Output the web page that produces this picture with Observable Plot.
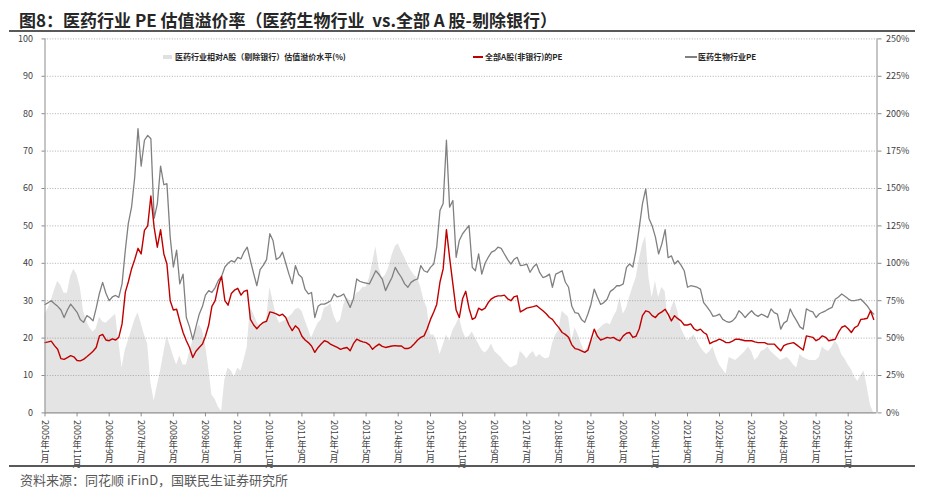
<!DOCTYPE html>
<html><head><meta charset="utf-8">
<script src="https://cdn.jsdelivr.net/npm/d3@7"></script>
<script src="https://cdn.jsdelivr.net/npm/@observablehq/plot@0.6"></script>
<style>
body{margin:0;background:#fff;}
#page{position:relative;width:930px;height:492px;overflow:hidden;font-family:"Noto Sans CJK SC","Noto Sans",sans-serif;}
.abs{position:absolute;white-space:pre;}
.leg{font-size:8px;font-weight:bold;color:#262626;line-height:10px;top:52px;}
</style></head><body><div id="page">
<div class="abs" style="left:19px;top:11px;font-size:17px;line-height:17px;font-weight:bold;color:#262626;">图8：医药行业 PE 估值溢价率（医药生物行业  vs.全部 A 股-剔除银行）</div>
<div class="abs" style="left:9px;top:30px;width:906px;height:2px;background:#595959;"></div>
<div id="chart" class="abs" style="left:0;top:28px;"></div>
<div class="abs" style="left:163px;top:55px;width:9px;height:4px;background:#e0e0e0;"></div>
<div class="abs leg" style="left:175px;">医药行业相对A股（剔除银行）估值溢价水平(%)</div>
<div class="abs" style="left:473px;top:56px;width:10px;height:2px;background:#c00000;"></div>
<div class="abs leg" style="left:485px;">全部A股(非银行)的PE</div>
<div class="abs" style="left:685px;top:56px;width:12px;height:2px;background:#808080;"></div>
<div class="abs leg" style="left:698px;">医药生物行业PE</div>
<div class="abs" style="left:9px;top:465px;width:906px;height:2px;background:#595959;"></div>
<div class="abs" style="left:20px;top:473px;font-size:13px;line-height:13px;color:#595959;">资料来源：同花顺 iFinD，国联民生证券研究所</div>
</div>
<script>
// monthly series starting 2005年1月
const peAll = [
 18.8,19.0,19.2,18.0,17.0,14.5,14.3,14.8,15.3,15.0,14.0,13.9, // 2005
 14.3,15.0,15.7,16.5,17.5,20.6,21.0,19.5,19.3,19.8,19.5,20.2, // 2006
 23.8,32.3,35.0,38.5,41.0,44.0,42.5,48.8,50.0,58.0,49.6,44.3, // 2007
 49.0,42.5,39.8,30.0,27.5,27.7,24.5,21.5,19.3,17.5,14.8,16.5, // 2008
 17.5,18.4,20.5,23.5,28.5,30.0,34.0,36.5,30.0,28.8,31.9,32.8, // 2009
 33.3,31.5,32.5,32.8,25.0,23.5,22.5,23.5,24.2,24.5,27.0,26.8, // 2010
 26.5,26.0,26.4,25.5,23.5,22.0,23.3,22.5,20.5,19.5,18.8,17.9, // 2011
 16.2,17.5,18.4,19.3,19.0,18.3,17.9,17.5,17.0,17.3,17.5,16.6, // 2012
 18.5,19.7,19.3,19.0,18.8,18.2,17.0,17.8,18.4,17.8,17.5,17.7, // 2013
 17.9,18.0,17.9,17.9,17.2,17.2,17.6,18.5,19.5,20.2,20.6,22.5, // 2014
 25.0,27.0,29.0,35.0,38.5,49.0,41.5,34.5,27.5,25.5,30.5,32.5, // 2015
 28.0,25.0,25.5,28.0,27.5,28.0,29.5,30.5,31.0,31.3,31.3,31.5, // 2016
 30.5,30.0,31.0,31.3,27.0,27.5,28.0,28.2,28.4,28.7,28.0,27.3, // 2017
 26.5,25.5,25.0,23.8,22.8,21.5,21.0,20.2,18.2,17.2,17.0,16.6, // 2018
 16.2,16.8,19.5,22.4,20.5,19.5,19.8,20.2,20.0,20.2,19.6,19.3, // 2019
 20.6,21.3,21.5,20.2,20.5,22.5,26.0,27.3,27.0,26.0,25.5,26.5, // 2020
 27.0,27.7,26.4,24.6,26.0,25.2,24.6,23.5,23.5,23.8,22.5,22.0, // 2021
 22.4,21.5,21.0,18.5,19.0,19.3,19.7,19.3,18.8,18.8,19.2,19.7, // 2022
 19.7,19.5,19.3,19.3,19.3,19.0,18.8,18.8,18.8,18.4,18.4,18.4, // 2023
 17.5,16.6,18.0,18.4,18.6,18.8,18.2,17.5,16.8,20.6,20.4,20.2, // 2024
 19.3,19.8,20.6,20.2,19.3,19.5,19.7,21.5,22.9,23.3,22.5,21.5, // 2025
 22.8,23.3,25.0,25.1,25.3,27.3,25.0                           // 2026
];
const peMed = [
 29.0,29.5,30.0,29.2,28.5,27.5,25.5,27.5,29.1,28.0,26.9,25.0, // 2005
 24.2,26.0,25.5,24.6,28.0,32.0,34.9,32.0,30.0,31.0,31.4,30.9, // 2006
 34.5,43.5,50.6,55.0,63.0,76.0,66.0,72.9,74.2,73.3,52.0,55.9, // 2007
 66.0,61.0,61.3,47.0,39.0,43.5,34.5,37.1,25.5,23.0,19.6,23.0, // 2008
 26.4,28.5,31.5,32.7,32.2,33.5,35.4,36.5,39.0,40.0,40.7,40.3, // 2009
 41.6,41.2,43.0,44.3,40.7,37.2,34.0,38.3,39.5,41.0,47.9,46.1, // 2010
 41.0,41.6,43.0,40.0,37.1,34.5,39.4,37.0,36.2,33.0,31.8,32.2, // 2011
 25.5,28.5,29.1,29.1,29.5,30.0,31.8,31.0,31.3,31.8,30.0,28.2, // 2012
 30.5,35.8,35.2,34.9,34.7,34.5,36.2,38.0,37.0,35.8,32.7,34.5, // 2013
 36.2,38.9,37.5,36.2,34.5,33.6,34.9,35.5,35.8,39.4,38.0,37.6, // 2014
 38.9,39.8,44.3,54.1,56.0,72.9,55.0,56.8,41.6,46.1,47.9,49.0, // 2015
 50.1,38.9,38.0,42.5,37.1,40.0,41.6,43.0,43.4,44.3,44.0,42.5, // 2016
 41.0,39.8,41.0,41.6,39.4,39.5,39.8,37.6,39.0,39.8,37.5,36.2, // 2017
 36.5,37.1,33.6,37.1,37.5,38.0,35.0,33.6,28.5,26.8,26.6,25.0, // 2018
 24.2,26.5,29.0,33.1,31.0,29.0,29.5,30.4,32.5,33.1,34.0,34.0, // 2019
 34.5,38.9,39.8,39.0,43.4,49.6,55.9,59.9,52.0,50.0,47.0,42.5, // 2020
 45.2,49.0,41.5,42.0,39.8,40.7,39.5,38.0,33.6,34.0,33.8,33.6, // 2021
 33.1,29.5,28.5,27.3,25.8,26.0,26.4,25.0,24.5,24.2,24.6,25.5, // 2022
 27.3,26.5,25.5,26.5,27.3,26.3,25.8,26.4,26.0,25.5,27.8,26.8, // 2023
 26.4,22.4,24.0,24.6,27.8,26.0,24.6,23.0,22.4,27.8,27.3,27.0, // 2024
 25.5,26.5,26.9,27.3,27.8,28.2,30.4,31.0,31.8,31.2,30.5,30.0, // 2025
 30.0,30.2,30.4,29.5,28.6,27.3,26.4                           // 2026
];
// 医药行业相对A股（剔除银行）估值溢价水平 (%), right axis
const premium = [
 66,70,75,82,88,85,80,80,91,96,92,84,   // 2005
 68,61,57,54,56,64,61,60,62,64,66,48,   // 2006
 30,42,48,55,62,67,60,52,46,20,8,18,    // 2007
 28,40,51,45,38,32,38,32,32,40,48,55,   // 2008
 59,55,46,30,12,9,4,1,22,30,28,24,      // 2009
 30,28,35,44,71,66,61,57,59,62,84,75,   // 2010
 65,60,61,62,64,66,69,70,68,62,56,50,   // 2011
 55,60,62,70,71,73,65,60,62,72,77,75,   // 2012
 75,80,81,84,84,90,100,111,97,90,92,97, // 2013
 105,111,113,108,104,99,95,92,90,84,75,70, // 2014
 52,52,48,39,45,52,48,55,59,64,55,50,   // 2015
 51,54,50,46,42,40,42,46,41,39,37,34,   // 2016
 32,30,31,32,41,39,36,39,41,37,39,37,   // 2017
 36,37,46,52,55,68,66,64,48,57,52,46,   // 2018
 41,44,48,50,55,57,59,60,59,64,68,77,   // 2019
 66,70,77,84,90,102,112,118,90,77,88,77, // 2020
 84,81,62,70,75,68,57,52,48,50,52,48,   // 2021
 44,41,39,41,44,37,32,29,26,37,36,35,   // 2022
 37,39,41,44,41,35,37,41,42,44,41,39,   // 2023
 37,35,36,37,35,32,30,39,37,36,35,35,   // 2024
 35,37,44,42,41,44,48,45,39,36,32,29,   // 2025
 24,21,25,28,17,5,0                     // 2026
];
const xTickLabels = ["2005年1月","2005年11月","2006年9月","2007年7月","2008年5月","2009年3月","2010年1月","2010年11月","2011年9月","2012年7月","2013年5月","2014年3月","2015年1月","2015年11月","2016年9月","2017年7月","2018年5月","2019年3月","2020年1月","2020年11月","2021年9月","2022年7月","2023年5月","2024年3月","2025年1月","2025年11月"];
const leftTicks = [0,10,20,30,40,50,60,70,80,90,100];
const leftTickLabels = ["0","10","20","30","40","50","60","70","80","90","100"];
const rightTickLabels = ["0%","25%","50%","75%","100%","125%","150%","175%","200%","225%","250%"];

const data = peAll.map((v, i) => ({date: new Date(Date.UTC(2005, i, 1)), all: v, med: peMed[i], prem: premium[i]}));
const xTicks = xTickLabels.map(s => { const [y, m] = s.match(/\d+/g).map(Number); return new Date(Date.UTC(y, m - 1, 1)); });
const x0 = new Date(Date.UTC(2005, 0, 1)), x1 = new Date(Date.UTC(2026, 7, 1));
const axisColor = "#8c8c8c";

const chart = Plot.plot({
  width: 930, height: 438,
  marginTop: 10.4, marginBottom: 53.6, marginLeft: 44.5, marginRight: 53.5,
  style: {fontFamily: "'Noto Sans CJK SC','Noto Sans',sans-serif", fontSize: "9px", color: "#404040", background: "transparent", overflow: "visible"},
  x: {type: "utc", domain: [x0, x1]},
  y: {domain: [0, 100]},
  marks: [
    Plot.areaY(data, {x: "date", y: d => d.prem / 2.5, fill: "#e4e4e4"}),
    Plot.gridY(leftTicks.slice(1), {stroke: "#9a9a9a", strokeOpacity: 1, strokeDasharray: "1,1.6", strokeWidth: 0.8}),
    Plot.lineY(data, {x: "date", y: "med", stroke: "#808080", strokeWidth: 1.3}),
    Plot.lineY(data, {x: "date", y: "all", stroke: "#c00000", strokeWidth: 1.4}),
    Plot.ruleX([x0, x1], {stroke: axisColor, strokeWidth: 1}),
    Plot.ruleY([0], {stroke: axisColor, strokeWidth: 1.2}),
    Plot.axisY(leftTicks, {anchor: "left", tickSize: 3, tickPadding: 9, stroke: axisColor, fill: "#404040", tickFormat: d => leftTickLabels[leftTicks.indexOf(d)]}),
    Plot.axisY(leftTicks, {anchor: "right", tickSize: 4, tickPadding: 5, stroke: axisColor, fill: "#404040", tickFormat: d => rightTickLabels[leftTicks.indexOf(d)]}),
    Plot.axisX(xTicks, {tickSize: 4, stroke: axisColor, tickFormat: () => ""}),
    Plot.text(xTicks, {x: d => d, y: 0, dy: 7, text: (d, i) => xTickLabels[i], textAnchor: "start", lineAnchor: "bottom", fontSize: 9, fill: "#404040"})
  ]
});
d3.select(chart).selectAll("text")
  .filter(function() { return /年.*月/.test(this.textContent); })
  .attr("writing-mode", "vertical-rl")
  .style("writing-mode", "vertical-rl");
document.getElementById("chart").appendChild(chart);
</script></body></html>
